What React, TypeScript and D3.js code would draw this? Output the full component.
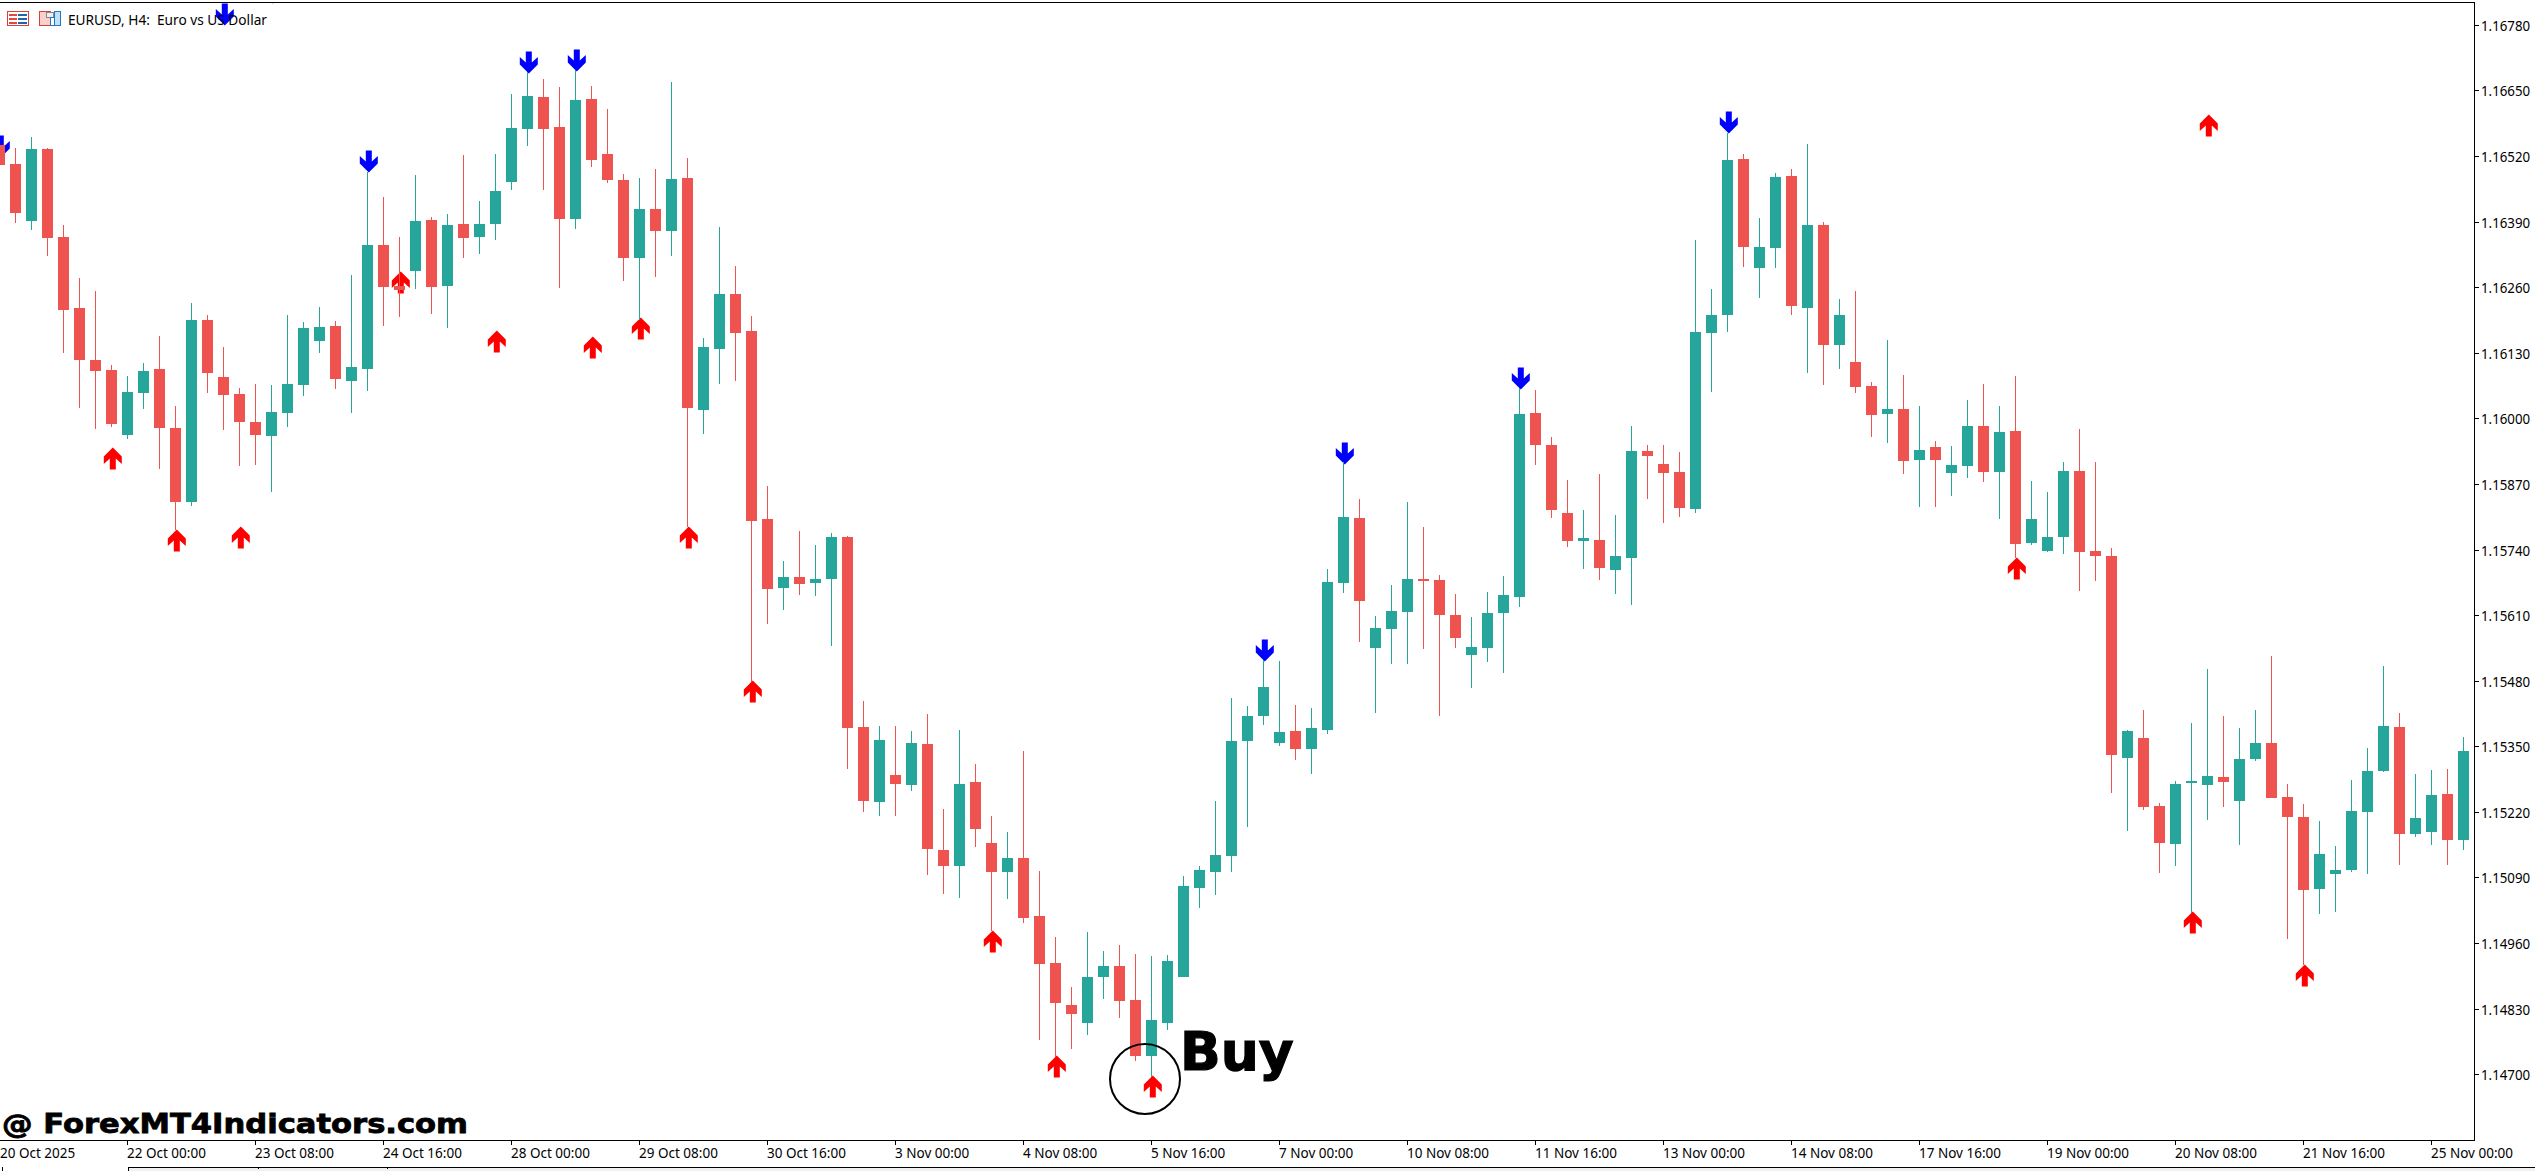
import React from "react";
import * as d3 from "d3";

const WIDTH = 2535;
const HEIGHT = 1171;

const pairTitle = "EURUSD, H4:  Euro vs US Dollar";
const watermark = "@ ForexMT4Indicators.com";
const callout = "Buy";

const priceTicks = [1.1678, 1.1665, 1.1652, 1.1639, 1.1626, 1.1613, 1.16, 1.1587, 1.1574, 1.1561, 1.1548, 1.1535, 1.1522, 1.1509, 1.1496, 1.1483, 1.147];
const timeLabels = ["20 Oct 2025", "22 Oct 00:00", "23 Oct 08:00", "24 Oct 16:00", "28 Oct 00:00", "29 Oct 08:00", "30 Oct 16:00", "3 Nov 00:00", "4 Nov 08:00", "5 Nov 16:00", "7 Nov 00:00", "10 Nov 08:00", "11 Nov 16:00", "13 Nov 00:00", "14 Nov 08:00", "17 Nov 16:00", "19 Nov 00:00", "20 Nov 08:00", "21 Nov 16:00", "25 Nov 00:00"];

const highs = [
1.16552,1.16536,1.16558,1.16536,1.16383,1.16278,1.16253,1.16106,1.16084,1.16110,
1.16163,1.16025,1.16229,1.16205,1.16142,1.16060,1.16068,1.16066,1.16205,1.16191,
1.16221,1.16193,1.16284,1.16488,1.16439,1.16360,1.16482,1.16399,1.16405,1.16522,
1.16431,1.16524,1.16643,1.16687,1.16673,1.16657,1.16691,1.16659,1.16613,1.16484,
1.16477,1.16494,1.16667,1.16516,1.16159,1.16379,1.16302,1.16203,1.15866,1.15717,
1.15777,1.15749,1.15773,1.15767,1.15440,1.15390,1.15390,1.15380,1.15414,1.15226,
1.15382,1.15315,1.15212,1.15180,1.15341,1.15103,1.14972,1.14873,1.14982,1.14944,
1.14956,1.14938,1.14934,1.14936,1.15093,1.15113,1.15242,1.15446,1.15430,1.15521,
1.15519,1.15432,1.15426,1.15702,1.15914,1.15840,1.15608,1.15670,1.15834,1.15785,
1.15690,1.15652,1.15606,1.15656,1.15688,1.16060,1.16056,1.15963,1.15878,1.15818,
1.15890,1.15809,1.15985,1.15947,1.15947,1.15933,1.16354,1.16257,1.16566,1.16524,
1.16397,1.16486,1.16494,1.16544,1.16389,1.16237,1.16253,1.16072,1.16155,1.16086,
1.16025,1.15955,1.15945,1.16036,1.16068,1.16025,1.16084,1.15876,1.15854,1.15914,
1.15979,1.15914,1.15743,1.15382,1.15422,1.15238,1.15281,1.15396,1.15503,1.15410,
1.15386,1.15422,1.15529,1.15275,1.15236,1.15202,1.15153,1.15283,1.15347,1.15509,
1.15416,1.15295,1.15303,1.15305,1.15369];

const lows = [
1.16488,1.16387,1.16373,1.16322,1.16130,1.16021,1.15979,1.15983,1.15959,1.16019,
1.15900,1.15779,1.15826,1.16050,1.15977,1.15906,1.15908,1.15854,1.15983,1.16044,
1.16130,1.16058,1.16011,1.16054,1.16183,1.16201,1.16257,1.16207,1.16179,1.16318,
1.16326,1.16354,1.16453,1.16540,1.16453,1.16259,1.16375,1.16498,1.16467,1.16272,
1.16195,1.16280,1.16322,1.15785,1.15969,1.16068,1.16074,1.15478,1.15593,1.15620,
1.15650,1.15648,1.15549,1.15305,1.15220,1.15212,1.15212,1.15262,1.15095,1.15057,
1.15049,1.15151,1.14984,1.15047,1.15000,1.14768,1.14734,1.14750,1.14778,1.14849,
1.14812,1.14726,1.14695,1.14788,1.14893,1.15030,1.15055,1.15101,1.15190,1.15392,
1.15351,1.15323,1.15295,1.15374,1.15654,1.15557,1.15416,1.15513,1.15513,1.15543,
1.15410,1.15545,1.15466,1.15517,1.15495,1.15626,1.15908,1.15803,1.15745,1.15702,
1.15680,1.15652,1.15630,1.15840,1.15793,1.15805,1.15812,1.16052,1.16171,1.16300,
1.16239,1.16298,1.16205,1.16090,1.16066,1.16098,1.16050,1.15963,1.15951,1.15890,
1.15824,1.15824,1.15846,1.15882,1.15874,1.15801,1.15723,1.15749,1.15735,1.15731,
1.15658,1.15678,1.15258,1.15182,1.15224,1.15099,1.15113,1.15020,1.15204,1.15230,
1.15155,1.15321,1.15248,1.14968,1.14917,1.15018,1.15022,1.15101,1.15097,1.15299,
1.15115,1.15170,1.15155,1.15115,1.15145];

const opens = [
1.16542,1.16504,1.16391,1.16534,1.16360,1.16219,1.16116,1.16096,1.15967,1.16050,
1.16098,1.15981,1.15834,1.16195,1.16082,1.16048,1.15993,1.15965,1.16011,1.16066,
1.16153,1.16183,1.16074,1.16098,1.16344,1.16262,1.16292,1.16393,1.16262,1.16385,
1.16360,1.16385,1.16469,1.16574,1.16637,1.16578,1.16395,1.16633,1.16524,1.16473,
1.16318,1.16415,1.16371,1.16477,1.16017,1.16138,1.16247,1.16173,1.15801,1.15664,
1.15686,1.15674,1.15682,1.15765,1.15388,1.15240,1.15293,1.15273,1.15355,1.15145,
1.15113,1.15279,1.15159,1.15101,1.15129,1.15014,1.14921,1.14837,1.14802,1.14893,
1.14915,1.14847,1.14736,1.14802,1.14893,1.15069,1.15101,1.15133,1.15361,1.15410,
1.15357,1.15380,1.15345,1.15382,1.15674,1.15803,1.15545,1.15583,1.15616,1.15682,
1.15680,1.15610,1.15531,1.15545,1.15614,1.15646,1.16011,1.15947,1.15812,1.15757,
1.15759,1.15700,1.15723,1.15935,1.15910,1.15894,1.15820,1.16169,1.16205,1.16514,
1.16298,1.16338,1.16481,1.16219,1.16383,1.16146,1.16112,1.16064,1.16009,1.16019,
1.15918,1.15943,1.15892,1.15906,1.15985,1.15894,1.15975,1.15753,1.15737,1.15765,
1.15896,1.15737,1.15727,1.15327,1.15367,1.15232,1.15157,1.15277,1.15273,1.15289,
1.15242,1.15325,1.15357,1.15250,1.15210,1.15067,1.15097,1.15105,1.15220,1.15301,
1.15388,1.15176,1.15180,1.15256,1.15164];

const closes = [
1.16502,1.16407,1.16534,1.16358,1.16215,1.16116,1.16094,1.15989,1.16052,1.16094,
1.15981,1.15834,1.16195,1.16090,1.16046,1.15993,1.15967,1.16013,1.16068,1.16179,
1.16181,1.16078,1.16102,1.16344,1.16261,1.16255,1.16391,1.16261,1.16383,1.16358,
1.16385,1.16451,1.16576,1.16639,1.16574,1.16395,1.16631,1.16512,1.16473,1.16318,
1.16415,1.16371,1.16475,1.16021,1.16142,1.16247,1.16169,1.15797,1.15662,1.15686,
1.15672,1.15682,1.15765,1.15386,1.15242,1.15363,1.15275,1.15357,1.15147,1.15113,
1.15275,1.15186,1.15101,1.15129,1.15010,1.14919,1.14841,1.14820,1.14893,1.14915,
1.14845,1.14736,1.14808,1.14925,1.15073,1.15105,1.15135,1.15361,1.15410,1.15468,
1.15378,1.15345,1.15386,1.15676,1.15805,1.15638,1.15585,1.15618,1.15682,1.15678,
1.15610,1.15565,1.15547,1.15614,1.15650,1.16009,1.15947,1.15818,1.15757,1.15763,
1.15704,1.15727,1.15935,1.15926,1.15892,1.15822,1.16171,1.16205,1.16512,1.16340,
1.16340,1.16479,1.16223,1.16383,1.16146,1.16205,1.16062,1.16007,1.16019,1.15916,
1.15937,1.15918,1.15908,1.15985,1.15894,1.15973,1.15751,1.15801,1.15765,1.15896,
1.15735,1.15727,1.15333,1.15380,1.15230,1.15159,1.15275,1.15281,1.15291,1.15279,
1.15325,1.15357,1.15248,1.15210,1.15065,1.15137,1.15105,1.15222,1.15301,1.15390,
1.15176,1.15208,1.15254,1.15164,1.15341];

const buyBars = [7, 11, 15, 25, 31, 37, 40, 43, 47, 62, 66, 72, 126, 137, 138, 144];
const buyPrices = [1.15941, 1.15779, 1.15785, 1.1629, 1.16173, 1.16161, 1.16199, 1.15785, 1.1548, 1.14984, 1.14736, 1.14697, 1.15723, 1.15022, 1.16601, 1.14917];
const sellBars = [0, 14, 17, 23, 33, 36, 79, 84, 95, 108];
const sellPrices = [1.16518, 1.1678, 1.16823, 1.16488, 1.16685, 1.16689, 1.15519, 1.1591, 1.16058, 1.16566];

const TEAL = "#26a69a";
const RED = "#ef5350";
const UI_FONT = "'Noto Sans', sans-serif";
const HEAVY_FONT = "'DejaVu Sans', sans-serif";

const x = d3.scaleLinear().domain([0, 154]).range([-0.5, 2463.5]);
const y = d3.scaleLinear().domain([1.147, 1.1678]).range([1074.3, 24.7]);
const py = (p: number) => Math.round(y(p));

const arrowLine = d3.line();
const downArrow = arrowLine([[-3, -21.5], [3, -21.5], [3, -10.5], [9, -16], [9, -8.5], [0, 0.5], [-9, -8.5], [-9, -16], [-3, -10.5]]) + "Z";
const upArrow = arrowLine([[-3, 21.5], [3, 21.5], [3, 10.5], [9, 16], [9, 8.5], [0, -0.5], [-9, 8.5], [-9, 16], [-3, 10.5]]) + "Z";

const AXIS_RIGHT = 2474;
const AXIS_BOTTOM = 1140;
const STATUS_TOP = 1167;
const STATUS_LEFT = 128;

function Icons() {
  return (
    <g shapeRendering="crispEdges">
      <rect x={7.5} y={11.5} width={21} height={14} fill="#fff" stroke="#d8413a" strokeWidth={1.5} />
      {[14, 18, 22].map((v) => (
        <g key={v}>
          <rect x={9} y={v} width={8} height={2} fill="#e2473c" />
          <rect x={18} y={v} width={9} height={2} fill="#1f66a8" />
        </g>
      ))}
      <rect x={39.5} y={11.5} width={11} height={14} fill="#fbd0ca" stroke="#d8413a" strokeWidth={1.5} />
      <rect x={46.5} y={12.5} width={7} height={5} fill="#eee" stroke="#888" strokeWidth={1} />
      <rect x={54.5} y={11.5} width={6} height={14} fill="#bfe0f7" stroke="#1f78c0" strokeWidth={1.5} />
      <rect x={50.5} y={17.5} width={4} height={8} fill="#fff" stroke="#1f78c0" strokeWidth={1.5} />
    </g>
  );
}

export default function App() {
  const bars = d3.range(opens.length);
  return (
    <svg
      width={WIDTH}
      height={HEIGHT}
      viewBox={`0 0 ${WIDTH} ${HEIGHT}`}
      style={{ position: "absolute", left: 0, top: 0, background: "#fff", display: "block" }}
    >
      <defs>
        <clipPath id="plot">
          <rect x={0} y={3} width={AXIS_RIGHT} height={AXIS_BOTTOM - 3} />
        </clipPath>
      </defs>

      <g clipPath="url(#plot)">
        {buyBars.map((b, k) => (
          <path key={`b${k}`} d={upArrow} fill="#ff0000" transform={`translate(${x(b) + 1.3},${py(buyPrices[k])})`} />
        ))}
        {sellBars.map((b, k) => (
          <path key={`s${k}`} d={downArrow} fill="#0000ff" transform={`translate(${x(b) + 1.3},${py(sellPrices[k])})`} />
        ))}
        <g shapeRendering="crispEdges">
          {bars.map((i) => {
            const up = closes[i] >= opens[i];
            const color = up ? TEAL : RED;
            const top = py(Math.max(opens[i], closes[i]));
            const bottom = py(Math.min(opens[i], closes[i]));
            const hi = py(highs[i]);
            const lo = py(lows[i]);
            return (
              <g key={i} fill={color}>
                <rect x={x(i) - 0.5} y={hi} width={1} height={Math.max(lo - hi, 1)} />
                <rect x={x(i) - 5.5} y={top} width={11} height={Math.max(bottom - top, 1)} />
              </g>
            );
          })}
        </g>
      </g>

      <Icons />
      <text x={68} y={25} fontFamily={UI_FONT} fontSize={14} fill="#000" textLength={199} lengthAdjust="spacingAndGlyphs" style={{ whiteSpace: "pre" }}>
        {pairTitle}
      </text>

      <g shapeRendering="crispEdges" fill="#000">
        <rect x={0} y={2} width={AXIS_RIGHT} height={1} />
        <rect x={AXIS_RIGHT} y={2} width={1} height={AXIS_BOTTOM - 2} />
        <rect x={0} y={AXIS_BOTTOM} width={AXIS_RIGHT + 1} height={1} />
        <rect x={STATUS_LEFT} y={STATUS_TOP} width={WIDTH - STATUS_LEFT} height={HEIGHT - STATUS_TOP} fill="#f0f0f0" />
        <rect x={STATUS_LEFT} y={STATUS_TOP} width={WIDTH - STATUS_LEFT} height={1} />
        <rect x={2} y={STATUS_TOP} width={1} height={HEIGHT - STATUS_TOP} />
        <rect x={STATUS_LEFT} y={STATUS_TOP} width={1} height={HEIGHT - STATUS_TOP} />
        <rect x={258} y={STATUS_TOP} width={1} height={2} />
        <rect x={387} y={STATUS_TOP} width={1} height={2} />
        {priceTicks.map((p) => (
          <rect key={p} x={AXIS_RIGHT} y={py(p)} width={5} height={1} />
        ))}
        {timeLabels.map((_, k) => (
          <rect key={k} x={x(k * 8) - 0.5} y={AXIS_BOTTOM} width={1} height={5} />
        ))}
      </g>

      <g fontFamily={UI_FONT} fontSize={14} fill="#000">
        {priceTicks.map((p) => (
          <text key={p} transform={`translate(2481,${py(p) + 6}) scale(0.95,1)`}>
            {d3.format(".5f")(p)}
          </text>
        ))}
        {timeLabels.map((t, k) => (
          <text key={t} transform={`translate(${Math.max(x(k * 8) - 0.5, 0)},1158) scale(0.965,1)`}>
            {t}
          </text>
        ))}
      </g>

      <circle cx={1145} cy={1079} r={35} fill="none" stroke="#000" strokeWidth={2} />
      <text x={1180} y={1070} fontFamily={HEAVY_FONT} fontWeight={700} fontSize={53.5} fill="#000" stroke="#000" strokeWidth={1.2}>
        {callout}
      </text>
      <text x={2} y={1133} fontFamily={HEAVY_FONT} fontWeight={700} fontSize={27.4} fill="#000" stroke="#000" strokeWidth={0.8} textLength={466} lengthAdjust="spacingAndGlyphs">
        {watermark}
      </text>
    </svg>
  );
}
